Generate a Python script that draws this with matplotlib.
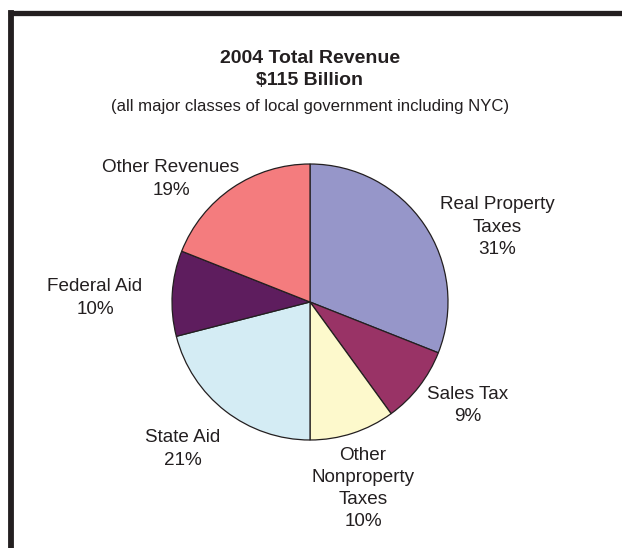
import matplotlib
matplotlib.use('Agg')
import matplotlib.pyplot as plt
from matplotlib.lines import Line2D

plt.rcParams['font.family'] = ['Liberation Sans', 'DejaVu Sans']

# Daten
categories = ['Real Property\nTaxes', 'Sales Tax', 'Other\nNonproperty\nTaxes',
              'State Aid', 'Federal Aid', 'Other Revenues']
shares = [31, 9, 10, 21, 10, 19]
colors = ['#9696c9', '#993366', '#fdf9cc', '#d4ecf4', '#5e1d5e', '#f47c7e']

title = '2004 Total Revenue\n$115 Billion'
subtitle = '(all major classes of local government including NYC)'

W, H = 622, 548
fig = plt.figure(figsize=(W / 100, H / 100), dpi=100)

# Pie-Achse: Mitte (310, 302) px, Radius 138 px
cx, cy, r = 310, 302, 138
ax = fig.add_axes([(cx - r) / W, (H - cy - r) / H, 2 * r / W, 2 * r / H])
ax.pie(shares, colors=colors, startangle=90, counterclock=False,
       wedgeprops=dict(edgecolor='#231f20', linewidth=0.9))
ax.set_xlim(-1, 1)
ax.set_ylim(-1, 1)
ax.set_aspect('equal')
ax.axis('off')

# Beschriftungen (Pixelposition der Textmitte)
label_pos = [(497, 227), (468, 405.5), (363, 488.5), (183, 449), (95, 298), (171, 179)]
for name, val, (px, py) in zip(categories, shares, label_pos):
    fig.text(px / W, 1 - py / H, f'{name}\n{val}%', ha='center', va='center',
             fontsize=13.6, color='#231f20', linespacing=1.4)

fig.text(310 / W, 1 - 69.5 / H, title, ha='center', va='center', fontsize=14,
         fontweight='bold', color='#231f20', linespacing=1.38)
fig.text(310 / W, 1 - 106 / H, subtitle, ha='center', va='center', fontsize=12.1,
         color='#231f20')

# Rahmen oben und links
fig.add_artist(Line2D([11 / W, 1], [1 - 12.5 / H, 1 - 12.5 / H], color='#231f20',
                      linewidth=3.8, transform=fig.transFigure, solid_capstyle='projecting'))
fig.add_artist(Line2D([11 / W, 11 / W], [0, 1 - 12.5 / H], color='#231f20',
                      linewidth=4.2, transform=fig.transFigure, solid_capstyle='projecting'))

fig.savefig('out.png', dpi=100)
